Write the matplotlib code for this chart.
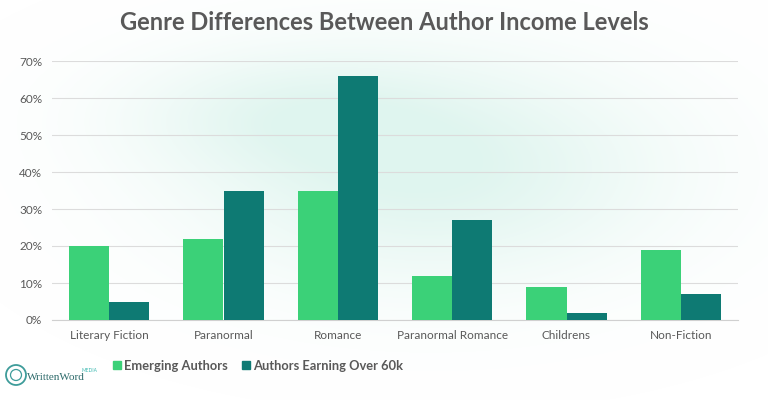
import numpy as np
import matplotlib
matplotlib.use("Agg")
import matplotlib.pyplot as plt
from matplotlib.patches import Rectangle, Circle

# Data
genres = ["Literary Fiction", "Paranormal", "Romance", "Paranormal Romance", "Childrens", "Non-Fiction"]
emerging = [20, 22, 35, 12, 9, 19]
over_60k = [5, 35, 66, 27, 2, 7]
series_names = ["Emerging Authors", "Authors Earning Over 60k"]
yticks = [0, 10, 20, 30, 40, 50, 60, 70]

green = "#3BD178"
teal = "#0E7A73"
text_grey = "#595959"

plt.rcParams["font.family"] = ["Lato", "DejaVu Sans"]

fig = plt.figure(figsize=(7.68, 4.0), dpi=100)
fig.patch.set_facecolor("white")

# watercolor-ish wash in background (pixel coordinates)
bg = fig.add_axes([0, 0, 1, 1], zorder=0)
bg.set_xlim(0, 768)
bg.set_ylim(400, 0)
bg.axis("off")
yy, xx = np.mgrid[0:400, 0:768]
blob = np.exp(-(((xx - 430) / 230.0) ** 2 + ((yy - 170) / 110.0) ** 2))
blob += 0.5 * np.exp(-(((xx - 280) / 160.0) ** 2 + ((yy - 110) / 60.0) ** 2))
blob = np.clip(blob, 0, 1)
rgba = np.zeros((400, 768, 4))
rgba[..., 0] = 0.78
rgba[..., 1] = 0.93
rgba[..., 2] = 0.89
rgba[..., 3] = blob * 0.55
bg.imshow(rgba, extent=(0, 768, 400, 0), aspect="auto", interpolation="bilinear")

ax = fig.add_axes([52 / 768, 80 / 400, 686 / 768, 259 / 400], zorder=1)
ax.patch.set_alpha(0)

x = np.arange(len(genres))
w = 0.35
ax.bar(x - w / 2, emerging, width=w, color=green, zorder=3)
ax.bar(x + w / 2, over_60k, width=w, color=teal, zorder=3)

ax.set_xlim(-0.5, len(genres) - 0.5)
ax.set_ylim(0, 70)
ax.set_yticks(yticks)
ax.set_yticklabels([f"{v}%" for v in yticks], color=text_grey, fontsize=8.5)
ax.set_xticks(x)
ax.set_xticklabels(genres, color=text_grey, fontsize=8.5)
ax.tick_params(length=0, pad=7)
ax.yaxis.grid(True, color="#DCDCDC", linewidth=0.8, zorder=0)
for s in ax.spines.values():
    s.set_visible(False)
ax.spines["bottom"].set_visible(True)
ax.spines["bottom"].set_color("#D0D0D0")

fig.text(0.5, 0.945, "Genre Differences Between Author Income Levels",
         ha="center", va="center", fontsize=17, fontweight="bold", color=text_grey)

# legend row, drawn on a pixel-coordinate overlay
ov = fig.add_axes([0, 0, 1, 1], zorder=2)
ov.set_xlim(0, 768)
ov.set_ylim(400, 0)
ov.axis("off")
ov.add_patch(Rectangle((113, 361), 8, 8, color=green))
ov.text(124, 366, series_names[0], ha="left", va="center",
        fontsize=9.3, fontweight="bold", color=text_grey)
ov.add_patch(Rectangle((242, 361), 8, 8, color=teal))
ov.text(253, 366, series_names[1], ha="left", va="center",
        fontsize=9.3, fontweight="bold", color=text_grey)

# logo
ov.add_patch(Circle((16, 375), 10, facecolor="white", edgecolor="#3E9C9A", linewidth=1.3))
ov.add_patch(Circle((16, 375), 5.5, facecolor="white", edgecolor="#3E9C9A", linewidth=0.9))
ov.text(27, 377, "WrittenWord", ha="left", va="center",
        fontsize=8, family="Liberation Serif", color="#2E6B6B")
ov.text(82, 370, "MEDIA", ha="left", va="center", fontsize=3.5, color="#3BB8B0")

fig.savefig("out.png", dpi=100)
